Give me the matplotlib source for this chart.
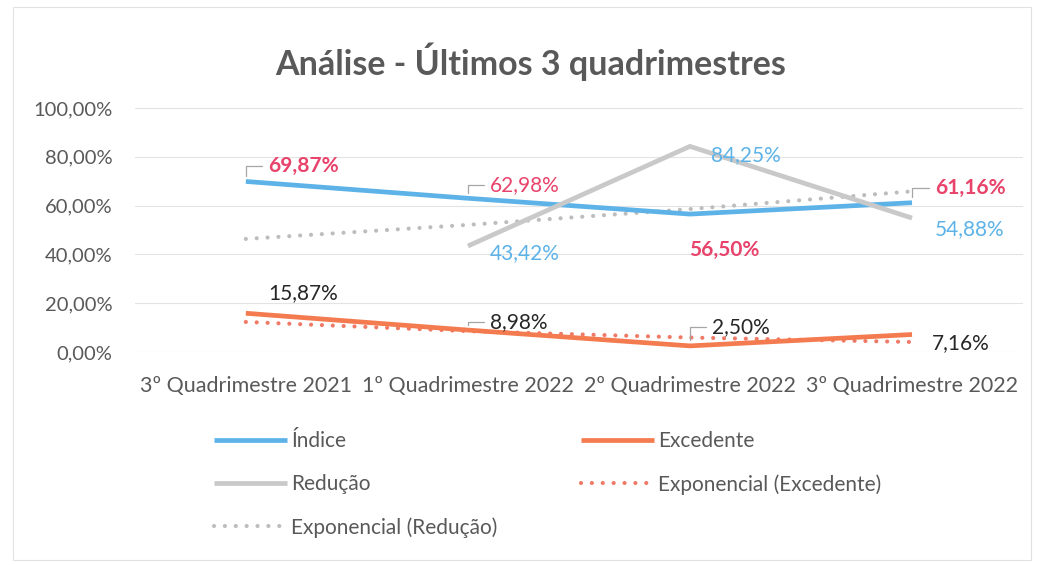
import numpy as np
import matplotlib
matplotlib.use("Agg")
import matplotlib.pyplot as plt
from matplotlib.patches import Rectangle

plt.rcParams['font.family'] = ['Lato', 'DejaVu Sans']

# dados do grafico
categorias = ['3º Quadrimestre 2021', '1º Quadrimestre 2022',
              '2º Quadrimestre 2022', '3º Quadrimestre 2022']
indice = [69.87, 62.98, 56.50, 61.16]
reducao = [np.nan, 43.42, 84.25, 54.88]
excedente = [15.87, 8.98, 2.50, 7.16]

azul = '#5DB3E8'
laranja = '#F47B4F'
cinza = '#C9C9C9'
rosa = '#E8436B'
texto = '#595959'


def tendencia_exp(x, y, x_novo):
    # linha de tendencia exponencial (como no Excel)
    x = np.asarray(x, float)
    y = np.asarray(y, float)
    ok = ~np.isnan(y)
    b, a = np.polyfit(x[ok], np.log(y[ok]), 1)
    return np.exp(a + b * np.asarray(x_novo, float))


x = np.arange(len(categorias))

fig = plt.figure(figsize=(10.45, 5.65), dpi=100)
fig.add_artist(Rectangle((0.012, 0.008), 0.975, 0.98, transform=fig.transFigure,
                         fill=False, edgecolor='#E2E2E2', lw=0.8))
ax = fig.add_axes([0.129, 0.377, 0.850, 0.432])

for v in np.arange(0, 101, 20):
    ax.axhline(v, color='#E3E3E3', lw=0.8, zorder=0)

ax.plot(x, indice, color=azul, lw=3.4, solid_capstyle='butt', label='Índice', zorder=3)
ax.plot(x, reducao, color=cinza, lw=3.4, solid_capstyle='butt', label='Redução', zorder=3)
ax.plot(x, excedente, color=laranja, lw=3.4, solid_capstyle='butt', label='Excedente', zorder=3)

tr_red = tendencia_exp(x, reducao, x)
tr_exc = tendencia_exp(x, excedente, x)
ax.plot(x, tr_red, color='#BDBDBD', lw=3, ls=(0, (0.01, 2.6)), dash_capstyle='round',
        label='Exponencial (Redução)', zorder=2)
ax.plot(x, tr_exc, color='#F07A68', lw=3, ls=(0, (0.01, 2.6)), dash_capstyle='round',
        label='Exponencial (Excedente)', zorder=2)

ax.set_xlim(-0.5, 3.5)
ax.set_ylim(0, 100)
ax.set_yticks(np.arange(0, 101, 20))
ax.set_yticklabels([f'{v:.2f}%'.replace('.', ',') for v in np.arange(0, 101, 20)])
ax.set_xticks(x)
ax.set_xticklabels(categorias)
ax.tick_params(axis='y', length=0, labelsize=14.5, colors=texto, pad=16)
ax.tick_params(axis='x', length=0, labelsize=15.5, colors=texto, pad=17)
for s in ax.spines.values():
    s.set_visible(False)


def rotulo(i, valores, dx, dy, cor, negrito=False, guia=False, ha='left'):
    txt = f'{valores[i]:.2f}%'.replace('.', ',')
    props = None
    if guia:
        props = dict(arrowstyle='-', color='#A6A6A6', lw=0.9, shrinkA=2, shrinkB=4,
                     connectionstyle='angle,angleA=0,angleB=90,rad=0')
    ax.annotate(txt, xy=(x[i], valores[i]), xytext=(dx, dy), textcoords='offset pixels',
                ha=ha, va='center', fontsize=15, color=cor,
                fontweight='bold' if negrito else 'normal', arrowprops=props, zorder=5)


rotulo(0, indice, 22, 15, rosa, True, True)
rotulo(1, indice, 22, 13, rosa, False, True)
rotulo(2, indice, 34, -36, rosa, True, False, ha='center')
rotulo(3, indice, 23, 15, rosa, True, True)

rotulo(1, reducao, 22, -7, azul)
rotulo(2, reducao, 21, -9, azul)
rotulo(3, reducao, 23, -11, azul)

rotulo(0, excedente, 22, 20, '#262626')
rotulo(1, excedente, 22, 8, '#262626', False, True)
rotulo(2, excedente, 22, 19, '#262626', False, True)
rotulo(3, excedente, 20, -9, '#262626')

fig.text(0.508, 0.89, 'Análise - Últimos 3 quadrimestres', ha='center', va='center',
         fontsize=24.5, fontweight='bold', color=texto)

h, l = ax.get_legend_handles_labels()
ordem = ['Índice', 'Redução', 'Exponencial (Redução)', 'Excedente', 'Exponencial (Excedente)']
hs = [h[l.index(n)] for n in ordem]
leg = fig.legend(hs, ordem, loc='upper left', bbox_to_anchor=(0.187, 0.27), ncol=2,
                 frameon=False, fontsize=15, handlelength=3.5, columnspacing=4.0,
                 labelspacing=1.1, handletextpad=0.2)
for t in leg.get_texts():
    t.set_color(texto)

fig.savefig('out.png', dpi=100)
